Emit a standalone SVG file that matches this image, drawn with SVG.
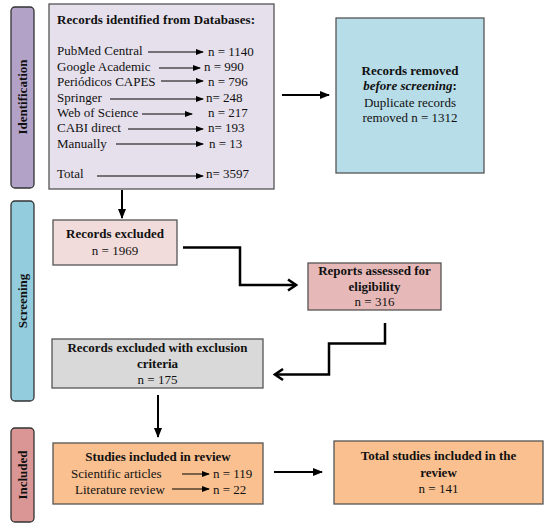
<svg xmlns="http://www.w3.org/2000/svg" width="550" height="529" viewBox="0 0 550 529">
<style>
text{font-family:"Liberation Serif","Times New Roman",serif;font-size:13px;fill:#111}
.b{font-weight:bold}
.c{text-anchor:middle}
.box{stroke:#555;stroke-width:1.3}
.bar{stroke:#333;stroke-width:1.3}
.thin{stroke:#000;stroke-width:1;fill:none}
.thick{stroke:#000;stroke-width:2;fill:none}
.elbow{stroke:#000;stroke-width:2.5;fill:none;stroke-linejoin:miter}
</style>
<defs>
<marker id="tri" markerWidth="8" markerHeight="6" refX="7" refY="3" orient="auto" markerUnits="userSpaceOnUse"><path d="M0,0 L8,3 L0,6 z" fill="#000"/></marker>
<marker id="tri2" markerWidth="10" markerHeight="8" refX="9" refY="4" orient="auto" markerUnits="userSpaceOnUse"><path d="M0,0 L10,4 L0,8 z" fill="#000"/></marker>
<marker id="chev" viewBox="0 0 12 14" markerWidth="12" markerHeight="14" refX="10" refY="7" orient="auto" markerUnits="userSpaceOnUse"><path d="M2,1.5 L10,7 L2,12.5" fill="none" stroke="#000" stroke-width="2.5"/></marker>
</defs>

<g id="bar-identification">
<rect class="bar" x="11" y="7" width="23" height="181" rx="4" fill="#b3a2c7"/>
<text class="b c" transform="translate(26.5,97) rotate(-90)">Identification</text>
</g>
<g id="bar-screening">
<rect class="bar" x="11" y="201" width="23" height="200" rx="4" fill="#93cddd"/>
<text class="b c" transform="translate(26.5,301) rotate(-90)">Screening</text>
</g>
<g id="bar-included">
<rect class="bar" x="11" y="428" width="23" height="94" rx="4" fill="#d99694"/>
<text class="b c" transform="translate(26.5,475) rotate(-90)">Included</text>
</g>

<g id="node-databases">
<rect class="box" x="49" y="4" width="225" height="185" fill="#e6e0ec"/>
<text class="b" x="57" y="24" textLength="198">Records identified from Databases:</text>
<text x="57" y="55">PubMed Central</text>
<text x="208" y="56">n = 1140</text>
<text x="57" y="71">Google Academic</text>
<text x="204" y="71">n = 990</text>
<text x="57" y="86">Periódicos CAPES</text>
<text x="208" y="86">n = 796</text>
<text x="57" y="102">Springer</text>
<text x="206" y="102">n= 248</text>
<text x="57" y="117">Web of Science</text>
<text x="208" y="117">n = 217</text>
<text x="57" y="132">CABI direct</text>
<text x="208" y="132">n= 193</text>
<text x="57" y="148">Manually</text>
<text x="209" y="148">n = 13</text>
<text x="57" y="178">Total</text>
<text x="206" y="178">n= 3597</text>
<g class="thin" marker-end="url(#tri)">
<line x1="148" y1="52" x2="203" y2="52"/>
<line x1="159" y1="68" x2="200" y2="68"/>
<line x1="161" y1="81" x2="203" y2="81"/>
<line x1="110" y1="99" x2="203" y2="99"/>
<line x1="142" y1="114" x2="192" y2="114"/>
<line x1="128" y1="129" x2="203" y2="129"/>
<line x1="116" y1="144" x2="203" y2="144"/>
<line x1="97" y1="176" x2="203" y2="176"/>
</g>
</g>

<g id="node-removed">
<rect class="box" x="336" y="18" width="148" height="155" fill="#b7dde8"/>
<text class="b c" x="410" y="75">Records removed</text>
<text class="b c" x="410" y="90"><tspan font-style="italic">before screening</tspan>:</text>
<text class="c" x="410" y="107">Duplicate  records</text>
<text class="c" x="410" y="122">removed   n = 1312</text>
</g>

<g id="node-excluded">
<rect class="box" x="53" y="220" width="124" height="45" fill="#f2dcdb"/>
<text class="b c" x="115" y="238">Records excluded</text>
<text class="c" x="115" y="255">n = 1969</text>
</g>

<g id="node-reports">
<rect class="box" x="308" y="263" width="133" height="47" fill="#e6b9b8"/>
<text class="b c" x="374.5" y="275">Reports assessed for</text>
<text class="b c" x="374.5" y="291">eligibility</text>
<text class="c" x="374.5" y="306">n = 316</text>
</g>

<g id="node-criteria">
<rect class="box" x="52" y="339" width="211" height="49" fill="#d9d9d9"/>
<text class="b c" x="157.5" y="352">Records excluded with  exclusion</text>
<text class="b c" x="157.5" y="368">criteria</text>
<text class="c" x="157.5" y="384">n = 175</text>
</g>

<g id="node-studies">
<rect class="box" x="53" y="443" width="210" height="61" fill="#fac090"/>
<text class="b c" x="158" y="461">Studies included  in  review</text>
<text x="71" y="478">Scientific  articles</text>
<text x="213" y="478">n = 119</text>
<text x="75" y="494">Literature  review</text>
<text x="213" y="494">n = 22</text>
<g class="thin" marker-end="url(#tri)">
<line x1="182" y1="474" x2="209" y2="474"/>
<line x1="172" y1="489" x2="209" y2="489"/>
</g>
</g>

<g id="node-total">
<rect class="box" x="334" y="441" width="209" height="63" fill="#fac090"/>
<text class="b c" x="438.5" y="460">Total studies included  in the</text>
<text class="b c" x="438.5" y="477">review</text>
<text class="c" x="438.5" y="493">n = 141</text>
</g>

<g id="connectors">
<line class="thick" x1="282" y1="95" x2="329" y2="95" marker-end="url(#tri2)"/>
<line class="thick" x1="122" y1="190" x2="122" y2="218" marker-end="url(#tri2)"/>
<polyline class="elbow" points="183,247.5 240,247.5 240,285 296,285" marker-end="url(#chev)"/>
<polyline class="elbow" points="385,323 385,343.5 329,343.5 329,374.5 275,374.5" marker-end="url(#chev)"/>
<line class="thick" x1="158" y1="395" x2="158" y2="437" marker-end="url(#tri2)"/>
<line class="thick" x1="274" y1="472" x2="322" y2="472" marker-end="url(#tri2)"/>
</g>
</svg>
